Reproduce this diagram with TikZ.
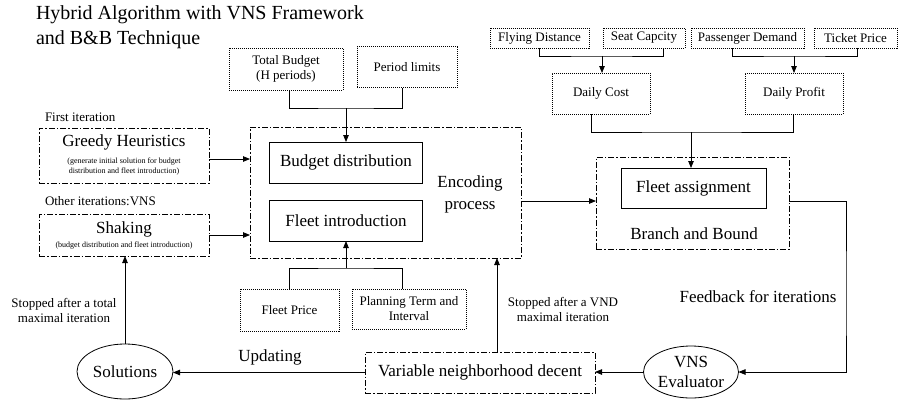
\documentclass[tikz,border=0pt]{standalone}
\usepackage{fontspec}
\setmainfont{Liberation Serif}
\usetikzlibrary{arrows.meta,shapes.geometric}

\newcommand{\bigfont}{\fontsize{17}{20}\selectfont}
\newcommand{\midfont}{\fontsize{13}{15}\selectfont}
\newcommand{\notefont}{\fontsize{8}{10}\selectfont}
\newcommand{\titlefont}{\fontsize{20}{25}\selectfont}

\tikzset{
  every node/.style={inner sep=0pt, outer sep=0pt},
  line/.style={line width=0.8pt},
  arrow/.style={line width=0.8pt, -{Triangle[length=7pt,width=5.5pt]}},
  dashdot/.style={draw, line width=0.8pt, dash pattern=on 6pt off 2pt on 1.5pt off 2pt},
  databox/.style={draw, line width=0.8pt, dash pattern=on 1pt off 1pt, align=center, font=\midfont},
  solidbox/.style={draw, line width=0.8pt, align=center, font=\bigfont},
  oval/.style={draw, ellipse, line width=0.8pt, align=center, font=\bigfont},
  label/.style={align=center, font=\midfont},
  biglabel/.style={align=center, font=\bigfont},
}

\begin{document}
\begin{tikzpicture}[x=1pt, y=-1pt]
\useasboundingbox (0,0) rectangle (900,400);

% title
\node[anchor=base west, font=\titlefont] (title1) at (36,19) {Hybrid Algorithm with VNS Framework};
\node[anchor=base west, font=\titlefont] (title2) at (36,44) {and B\&B Technique};

% budget inputs
\node[databox, minimum width=114, minimum height=42] (tb) at (286,69) {Total Budget\\(H periods)};
\node[databox, minimum width=100, minimum height=41] (pl) at (407,67) {Period limits};

% encoding process
\node[dashdot, minimum width=271, minimum height=131] (enc) at (385.5,192.5) {};
\node[solidbox, minimum width=153, minimum height=41] (bd) at (346,162.5) {Budget distribution};
\node[solidbox, minimum width=153, minimum height=41] (fi) at (346,220.5) {Fleet introduction};
\node[biglabel, font=\fontsize{17}{22}\selectfont] (enclab) at (470,194) {Encoding\\process};

% fleet inputs
\node[databox, minimum width=99, minimum height=42] (fp) at (289.5,310) {Fleet Price};
\node[databox, minimum width=114, minimum height=40] (pt) at (409,309) {Planning Term and\\Interval};

% greedy heuristics
\node[label, anchor=west] (firstit) at (45,117) {First iteration};
\node[dashdot, minimum width=170, minimum height=55] (gh) at (124,155.5) {};
\node[biglabel] (ghtitle) at (124,142) {Greedy Heuristics};
\node[align=center, font=\notefont] (ghnote) at (124,167) {(generate initial solution for budget\\distribution and fleet introduction)};

% shaking
\node[label, anchor=west] (otherit) at (45,201) {Other iterations:VNS};
\node[dashdot, minimum width=170, minimum height=42] (sh) at (124,235) {};
\node[biglabel] (shtitle) at (124,229) {Shaking};
\node[align=center, font=\notefont] (shnote) at (124,246) {(budget distribution and fleet introduction)};

% solutions and VND
\node[oval, minimum width=96, minimum height=55] (sol) at (125,371.5) {Solutions};
\node[label] (stop1) at (64,310) {Stopped after a total\\maximal iteration};
\node[dashdot, biglabel, minimum width=230, minimum height=41] (vnd) at (480,372.5) {Variable neighborhood decent};
\node[biglabel] (upd) at (270,357) {Updating};
\node[label] (stop2) at (563,309) {Stopped after a VND\\maximal iteration};
\node[oval, minimum width=95, minimum height=52, inner ysep=-2pt, font=\fontsize{17}{20}\selectfont] (eval) at (691,372) {VNS\\Evaluator};
\node[biglabel] (fb) at (758,297) {Feedback for iterations};

% branch and bound
\node[dashdot, minimum width=193, minimum height=92] (bb) at (692.5,203) {};
\node[solidbox, minimum width=145, minimum height=40] (fa) at (693.5,188) {Fleet assignment};
\node[biglabel] (bblab) at (694,234) {Branch and Bound};

% route data
\node[databox, minimum width=99, minimum height=20] (fd) at (539.5,38) {Flying Distance};
\node[databox, minimum width=82, minimum height=20] (sc) at (644,38) {Seat Capcity};
\node[databox, minimum width=113, minimum height=20] (pd) at (747.5,38) {Passenger Demand};
\node[databox, minimum width=83, minimum height=20] (tp) at (855.5,38) {Ticket Price};
\node[databox, minimum width=98, minimum height=41] (dc) at (601,93.5) {Daily Cost};
\node[databox, minimum width=98, minimum height=41] (dp) at (794,93.5) {Daily Profit};

% junctions
\coordinate (j1) at (346,108);
\coordinate (j2) at (346,268);
\coordinate (j3) at (602,56);
\coordinate (j4) at (794,56);
\coordinate (j5) at (691,132);
\coordinate (j6) at (846,300);

% budget inputs into encoding
\draw[line] ([xshift=3pt]tb.south) |- (j1) -| ([xshift=-5pt]pl.south);
\draw[arrow] (j1) -- (j1 |- bd.north);
% fleet inputs into encoding
\draw[line] (fp.north) |- (j2) -| ([xshift=-7pt]pt.north);
\draw[arrow] (j2) -- (j2 |- fi.south);
% heuristics into encoding
\draw[arrow] ([yshift=-3.5pt]gh.east) -- ([yshift=-3.5pt]gh.east -| enc.west);
\draw[arrow] (sh.east) -- (sh.east -| enc.west);
% encoding into branch and bound
\draw[arrow] ([yshift=2pt]bb.west -| enc.east) -- ([yshift=2pt]bb.west);
% route data into costs and profits
\draw[line] (fd.south) |- (j3) -| ([xshift=19pt]sc.south);
\draw[arrow] (j3) -- (j3 |- dc.north);
\draw[line] ([xshift=-15.5pt]pd.south) |- (j4) -| ([xshift=1.5pt]tp.south);
\draw[arrow] (j4) -- (j4 |- dp.north);
\draw[line] ([xshift=-10pt]dc.south) |- (j5) -| ([xshift=-1pt]dp.south);
\draw[arrow] (j5) -- (j5 |- fa.north);
% feedback loop
\draw[arrow] ([yshift=2pt]bb.east) -| (j6) |- (eval.east);
\draw[arrow] (eval.west) -- (eval.west -| vnd.east);
\draw[arrow] ([xshift=17pt]vnd.north) -- ([xshift=17pt]vnd.north |- enc.south);
\draw[arrow] (vnd.west) -- (vnd.west -| sol.east);
\draw[arrow] (sol.north) -- (sol.north |- sh.south);

\end{tikzpicture}
\end{document}
